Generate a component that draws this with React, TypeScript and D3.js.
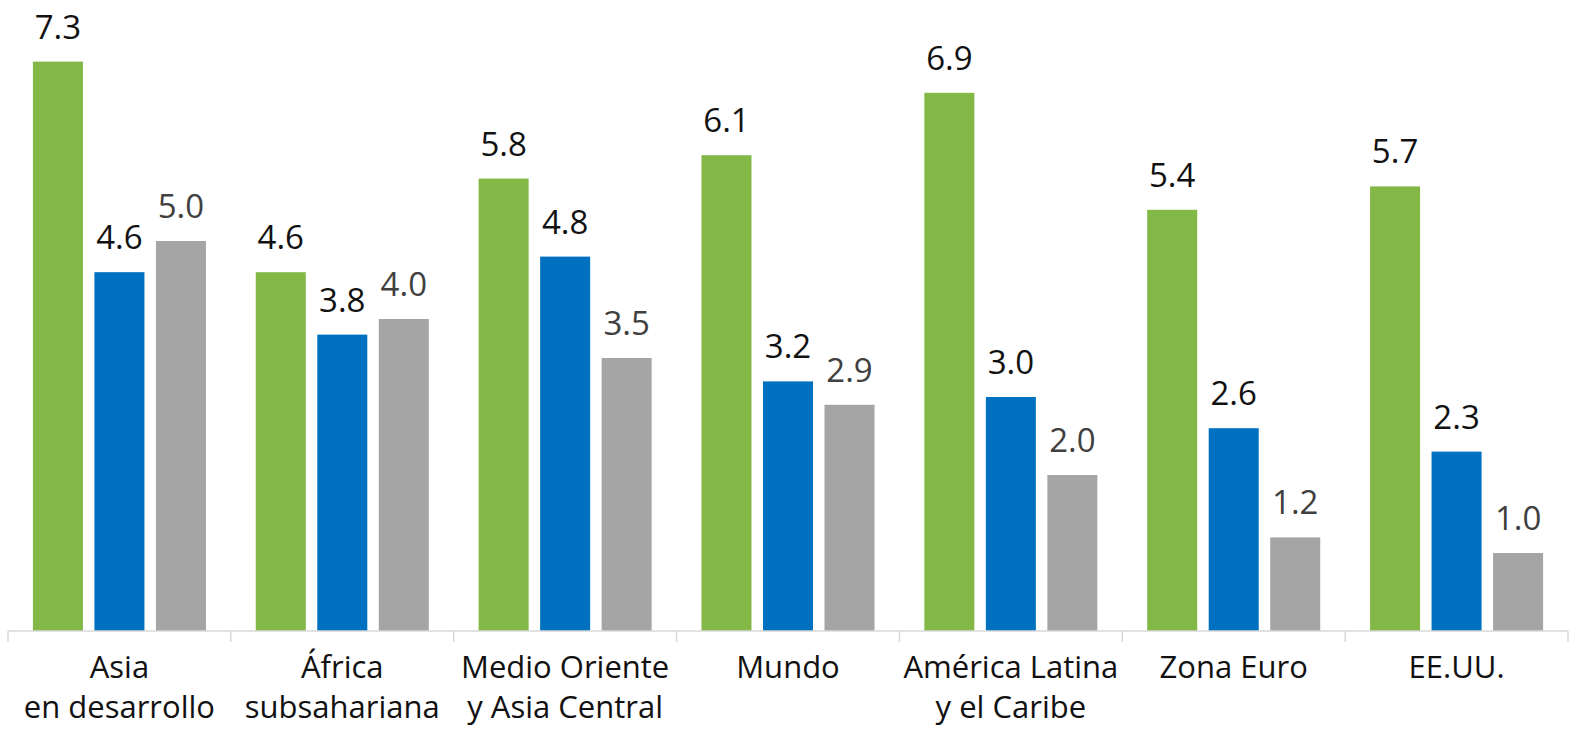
import React from "react";
import * as d3 from "d3";

const categories = [
  ["Asia", "en desarrollo"],
  ["África", "subsahariana"],
  ["Medio Oriente", "y Asia Central"],
  ["Mundo"],
  ["América Latina", "y el Caribe"],
  ["Zona Euro"],
  ["EE.UU."],
];
const seriesNames = ["s1", "s2", "s3"];
const series1 = [7.3, 4.6, 5.8, 6.1, 6.9, 5.4, 5.7];
const series2 = [4.6, 3.8, 4.8, 3.2, 3.0, 2.6, 2.3];
const series3 = [5.0, 4.0, 3.5, 2.9, 2.0, 1.2, 1.0];
const colors = ["#83b847", "#0070c0", "#a5a5a5"];
const labelColors = ["#111111", "#111111", "#404040"];

export default function App() {
  const W = 1573, H = 730;
  const left = 8, right = 1568, base = 631;
  const data = [series1, series2, series3];
  const keys = categories.map((c) => c.join(" "));
  const x0 = d3.scaleBand<string>().domain(keys).range([left, right]).padding(0);
  const x1 = d3
    .scaleBand<string>()
    .domain(seriesNames)
    .range([0, x0.bandwidth()])
    .paddingInner(0.187)
    .paddingOuter(0.405);
  const y = d3.scaleLinear().domain([0, 8]).range([base, base - 8 * 78]);
  const font = "'Open Sans', 'Noto Sans', sans-serif";
  const ticks = [...keys.map((k) => x0(k)!), right];

  return (
    <svg
      width={W}
      height={H}
      style={{ position: "absolute", left: 0, top: 0, background: "#fff" }}
      fontFamily={font}
    >
      {keys.map((k, ci) => (
        <g key={k} transform={`translate(${x0(k)},0)`}>
          {seriesNames.map((s, si) => {
            const v = data[si][ci];
            const bx = x1(s)!;
            return (
              <g key={s}>
                <rect
                  x={bx}
                  y={y(v)}
                  width={x1.bandwidth()}
                  height={base - y(v)}
                  fill={colors[si]}
                />
                <text
                  x={bx + x1.bandwidth() / 2}
                  y={y(v) - 23}
                  textAnchor="middle"
                  fontSize={33}
                  fill={labelColors[si]}
                >
                  {v.toFixed(1)}
                </text>
              </g>
            );
          })}
        </g>
      ))}
      <line x1={left} x2={right} y1={base} y2={base} stroke="#d9d9d9" strokeWidth={1.5} />
      {ticks.map((t, i) => (
        <line key={i} x1={t} x2={t} y1={base} y2={base + 11} stroke="#d9d9d9" strokeWidth={1.5} />
      ))}
      {categories.map((lines, ci) => (
        <text
          key={ci}
          x={x0(keys[ci])! + x0.bandwidth() / 2}
          y={678}
          textAnchor="middle"
          fontSize={31}
          fill="#111"
        >
          {lines.map((l, li) => (
            <tspan key={li} x={x0(keys[ci])! + x0.bandwidth() / 2} y={678 + li * 40}>
              {l}
            </tspan>
          ))}
        </text>
      ))}
    </svg>
  );
}
